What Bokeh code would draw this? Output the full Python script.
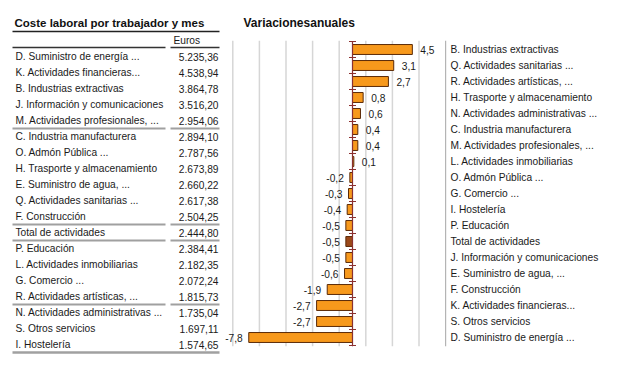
from bokeh.plotting import figure
from bokeh.models import Range1d, ColumnDataSource
from bokeh.core.properties import value
from bokeh.embed import file_html
from bokeh.resources import INLINE

FONT = "Liberation Sans"

# ---------------- data ----------------
table_title = "Coste laboral por trabajador y mes"
table_unit = "Euros"
table_labels = [
    "D. Suministro de energía ...",
    "K. Actividades financieras...",
    "B. Industrias extractivas",
    "J. Información y comunicaciones",
    "M. Actividades profesionales, ...",
    "C. Industria manufacturera",
    "O. Admón Pública ...",
    "H. Trasporte y almacenamiento",
    "E. Suministro de agua, ...",
    "Q. Actividades sanitarias ...",
    "F. Construcción",
    "Total de actividades",
    "P. Educación",
    "L. Actividades inmobiliarias",
    "G. Comercio ...",
    "R. Actividades artísticas, ...",
    "N. Actividades administrativas ...",
    "S. Otros servicios",
    "I. Hostelería",
]
table_values = [5235.36, 4538.94, 3864.78, 3516.20, 2954.06, 2894.10, 2787.56,
                2673.89, 2660.22, 2617.38, 2504.25, 2444.80, 2384.41, 2182.35,
                2072.24, 1815.73, 1735.04, 1697.11, 1574.65]
# rows after which a separator line is drawn
group_breaks = [4, 10, 11, 15]

chart_title = "Variacionesanuales"
var_labels = [
    "B. Industrias extractivas",
    "Q. Actividades sanitarias ...",
    "R. Actividades artísticas, ...",
    "H. Trasporte y almacenamiento",
    "N. Actividades administrativas ...",
    "C. Industria manufacturera",
    "M. Actividades profesionales, ...",
    "L. Actividades inmobiliarias",
    "O. Admón Pública ...",
    "G. Comercio ...",
    "I. Hostelería",
    "P. Educación",
    "Total de actividades",
    "J. Información y comunicaciones",
    "E. Suministro de agua, ...",
    "F. Construcción",
    "K. Actividades financieras...",
    "S. Otros servicios",
    "D. Suministro de energía ...",
]
var_values = [4.5, 3.1, 2.7, 0.8, 0.6, 0.4, 0.4, 0.1, -0.2, -0.3, -0.4, -0.5,
              -0.5, -0.5, -0.6, -1.9, -2.7, -2.7, -7.8]
grid_ticks = [-9, -7, -5, -3, -1, 1, 3, 5]


def fmt_euro(v):
    s = f"{v:,.2f}"
    return s.replace(",", "X").replace(".", ",").replace("X", ".")


def fmt_pct(v):
    return f"{v:.1f}".replace(".", ",")


n = len(table_labels)
m = len(var_labels)
idx = list(range(m))

p = figure(width=620, height=368,
           x_range=Range1d(-26.466, 20.15), y_range=Range1d(19.9375, -3.0625),
           output_backend="svg", toolbar_location=None,
           x_axis_location=None, y_axis_location=None,
           min_border=0, outline_line_color=None)
# layout ranges for the table part (pixel-like columns, table rows)
p.extra_x_ranges = {"tbl": Range1d(0, 620)}
p.extra_y_ranges = {"tbl": Range1d(19.5, -3.5)}
p.xgrid.visible = False
p.ygrid.visible = False

TXT = dict(text_font=value(FONT), text_font_size="10.2px", text_color="#1a1a1a",
           text_baseline="middle")
tb = dict(x_range_name="tbl", y_range_name="tbl")

# ---------------- table ----------------
tsrc = ColumnDataSource(dict(r=list(range(n)), lab=table_labels,
                             val=[fmt_euro(v) for v in table_values]))
p.text(x=15, y="r", text="lab", source=tsrc, **tb, **TXT)
p.text(x=218, y="r", text="val", source=tsrc, text_align="right", **tb, **TXT)
p.text(x=[14], y=[-2.12], text=[table_title], text_font=value(FONT),
       text_font_size="11.5px", text_font_style="bold", text_color="#111111",
       text_baseline="middle", **tb)
p.text(x=[173], y=[-1.03], text=[table_unit], **tb, **TXT)

p.segment(x0=[12], x1=[219], y0=[-1.56], y1=[-1.56], line_color="#222222",
          line_width=1.6, **tb)
p.segment(x0=[12, 170], x1=[165, 219], y0=[-0.56, -0.56], y1=[-0.56, -0.56],
          line_color="#333333", line_width=1.6, **tb)
gy = [b + 0.5 for b in group_breaks]
p.segment(x0=[12] * len(gy) + [170] * len(gy), x1=[165] * len(gy) + [219] * len(gy),
          y0=gy + gy, y1=gy + gy, line_color="#a0a0a0", line_width=2, **tb)
p.segment(x0=[12], x1=[219], y0=[n - 0.5], y1=[n - 0.5], line_color="#a0a0a0",
          line_width=2.6, **tb)

# ---------------- variations chart ----------------
p.text(x=[243], y=[-2.12], text=[chart_title], text_font=value(FONT),
       text_font_size="12px", text_font_style="bold", text_color="#111111",
       text_baseline="middle", **tb)

# vertical gridlines limited to the category band
p.segment(x0=grid_ticks, x1=grid_ticks, y0=-0.55, y1=m - 0.45,
          line_color="#d6d6d6", line_width=1.5)
# right border line of the chart
p.segment(x0=[7], x1=[7], y0=[-0.55], y1=[m - 0.45], line_color="#b4b4b4",
          line_width=1.2)

colors = ["#9c4a1a" if lab.startswith("Total") else "#f7991c" for lab in var_labels]
bsrc = ColumnDataSource(dict(y=idx, v=var_values, c=colors))
p.hbar(y="y", left=0, right="v", height=0.62, fill_color="c",
       line_color="#5a2a08", line_width=1, source=bsrc)

# zero axis with category boundary ticks
p.segment(x0=[0], x1=[0], y0=[-0.5], y1=[m - 0.45], line_color="#8b3030",
          line_width=1.2)
p.scatter(x=[0] * (m + 1), y=[i - 0.5 for i in range(m + 1)], marker="dash",
          size=7, line_color="#8b3030", line_width=1)

pos = [v >= 0 for v in var_values]
psrc = ColumnDataSource(dict(y=[i for i in idx if pos[i]],
                             v=[var_values[i] for i in idx if pos[i]],
                             t=[fmt_pct(var_values[i]) for i in idx if pos[i]]))
nsrc = ColumnDataSource(dict(y=[i for i in idx if not pos[i]],
                             v=[var_values[i] for i in idx if not pos[i]],
                             t=[fmt_pct(var_values[i]) for i in idx if not pos[i]]))
p.text(x="v", y="y", text="t", source=psrc, x_offset=8, text_align="left", **TXT)
p.text(x="v", y="y", text="t", source=nsrc, x_offset=-6, text_align="right", **TXT)

# category labels to the right of the chart
lsrc = ColumnDataSource(dict(y=idx, lab=var_labels))
p.text(x=450, y="y", text="lab", source=lsrc, x_range_name="tbl", **TXT)

open("out.html", "w").write(file_html(p, INLINE))
